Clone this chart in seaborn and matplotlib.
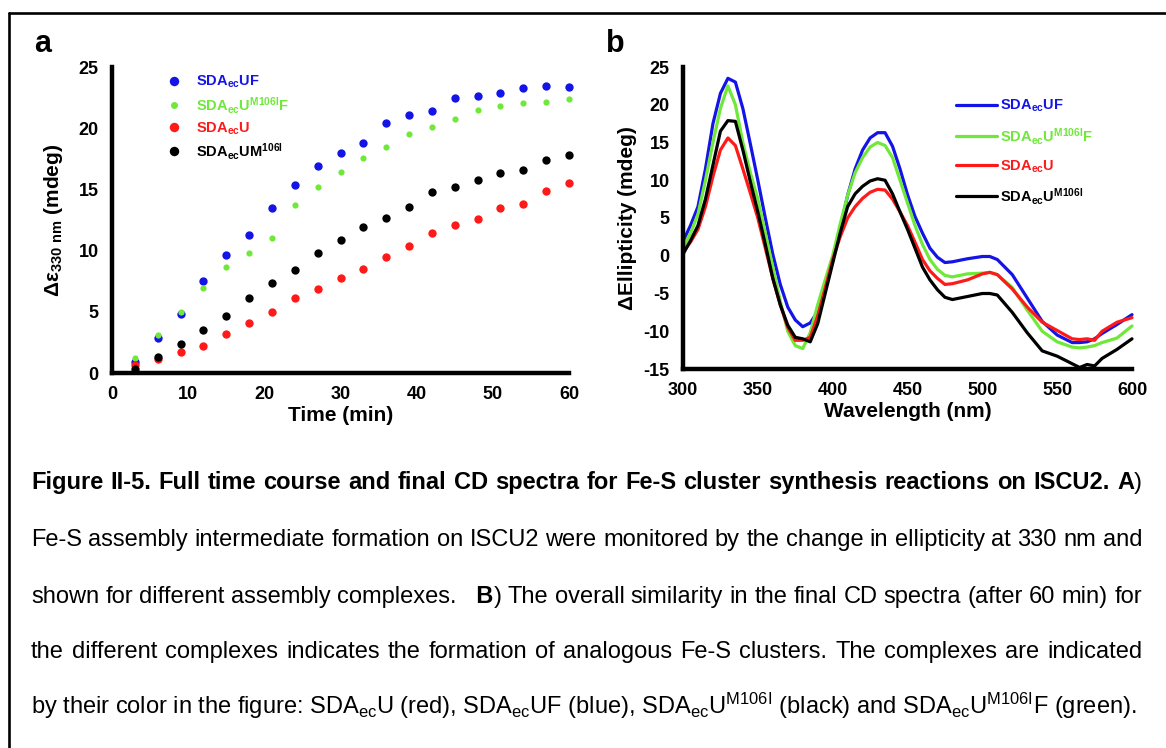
import matplotlib
matplotlib.use("Agg")
import matplotlib.pyplot as plt
import seaborn as sns
import pandas as pd
from matplotlib.lines import Line2D

# ---------------- data ----------------
time_min = [3, 6, 9, 12, 15, 18, 21, 24, 27, 30, 33, 36, 39, 42, 45, 48, 51, 54, 57, 60]
uf_time = [0.9, 2.86, 4.85, 7.5, 9.6, 11.3, 13.5, 15.4, 16.9, 17.95, 18.8, 20.4, 21.1, 21.4,
           22.5, 22.6, 22.9, 23.3, 23.45, 23.4]
um106if_time = [1.25, 3.13, 4.96, 6.97, 8.66, 9.8, 11.0, 13.7, 15.2, 16.4, 17.6, 18.45, 19.5,
                20.1, 20.75, 21.45, 21.85, 22.05, 22.15, 22.4]
u_time = [0.63, 1.17, 1.69, 2.21, 3.16, 4.06, 4.96, 6.1, 6.9, 7.76, 8.5, 9.45, 10.4, 11.4,
          12.1, 12.55, 13.5, 13.8, 14.9, 15.5]
um106i_time = [0.35, 1.31, 2.4, 3.5, 4.68, 6.13, 7.38, 8.44, 9.8, 10.9, 11.9, 12.7, 13.6, 14.75,
               15.2, 15.8, 16.3, 16.6, 17.4, 17.85]

wavelength = [300, 305, 310, 315, 320, 325, 330, 335, 340, 345, 350, 355, 360, 365, 370, 375,
              380, 385, 390, 395, 400, 405, 410, 415, 420, 425, 430, 435, 440, 445, 450, 455,
              460, 465, 470, 475, 480, 490, 500, 505, 510, 520, 530, 540, 550, 560, 565, 570,
              575, 580, 590, 600]
uf_cd = [1.9, 4.0, 6.5, 11.5, 17.5, 21.5, 23.5, 23.0, 19.5, 14.8, 10.0, 5.0, 0.2, -3.8, -6.8,
         -8.5, -9.4, -8.9, -7.4, -4.3, -0.7, 3.6, 8.0, 11.5, 14.0, 15.6, 16.3, 16.3, 14.5, 11.5,
         8.1, 5.2, 3.0, 1.0, -0.2, -0.9, -0.8, -0.4, -0.1, -0.1, -0.5, -2.5, -5.6, -8.7, -10.5,
         -11.5, -11.5, -11.4, -11.0, -10.3, -9.1, -7.8]
um106if_cd = [1.0, 3.0, 5.5, 10.0, 15.0, 19.5, 22.5, 20.0, 15.0, 11.0, 7.5, 3.0, -1.5, -6.0,
              -10.0, -11.9, -12.3, -10.2, -6.5, -3.2, 0.0, 4.2, 8.0, 11.0, 13.0, 14.4, 15.0, 14.6,
              13.0, 10.0, 7.0, 4.0, 1.5, -0.5, -1.8, -2.6, -2.8, -2.4, -2.3, -2.2, -2.5, -4.2,
              -7.2, -10.0, -11.4, -12.1, -12.2, -12.1, -11.9, -11.5, -10.9, -9.3]
u_cd = [0.5, 1.8, 3.5, 6.5, 10.5, 14.0, 15.6, 14.6, 11.5, 8.3, 5.0, 1.0, -3.0, -6.5, -9.5,
        -11.2, -11.2, -10.8, -8.0, -4.3, -0.5, 2.5, 5.0, 6.5, 7.6, 8.4, 8.8, 8.7, 7.5, 5.8,
        4.0, 1.8, -0.5, -2.0, -3.0, -3.8, -3.7, -3.2, -2.4, -2.2, -2.5, -4.4, -6.8, -8.8,
        -9.9, -11.0, -11.1, -11.0, -11.2, -10.0, -8.8, -8.2]
um106i_cd = [0.2, 2.0, 4.0, 7.5, 12.0, 16.5, 17.9, 17.8, 14.0, 9.8, 5.8, 1.5, -3.0, -6.5, -9.2,
             -10.8, -11.0, -11.4, -9.0, -5.0, -1.0, 3.0, 6.5, 8.2, 9.2, 9.9, 10.2, 10.0, 8.2, 5.8,
             3.5, 1.0, -1.5, -3.2, -4.5, -5.5, -5.8, -5.4, -5.0, -5.0, -5.2, -7.5, -10.2, -12.6,
             -13.3, -14.3, -14.8, -14.4, -14.6, -13.6, -12.4, -11.0]

series_keys = ["UF", "UM106IF", "U", "UM106I"]
labels_a = [r"SDA$_{ec}$UF", r"SDA$_{ec}$U$^{M106I}$F", r"SDA$_{ec}$U", r"SDA$_{ec}$UM$^{106I}$"]
labels_b = [r"SDA$_{ec}$UF", r"SDA$_{ec}$U$^{M106I}$F", r"SDA$_{ec}$U", r"SDA$_{ec}$U$^{M106I}$"]
time_ticks = [0, 10, 20, 30, 40, 50, 60]
ell_ticks = [0, 5, 10, 15, 20, 25]
wl_ticks = [300, 350, 400, 450, 500, 550, 600]
cd_ticks = [-15, -10, -5, 0, 5, 10, 15, 20, 25]

caption_lines = [
    [[("Figure", "bold")], [("II-5.", "bold")], [("Full", "bold")], [("time", "bold")],
     [("course", "bold")], [("and", "bold")], [("final", "bold")], [("CD", "bold")],
     [("spectra", "bold")], [("for", "bold")], [("Fe-S", "bold")], [("cluster", "bold")],
     [("synthesis", "bold")], [("reactions", "bold")], [("on", "bold")], [("ISCU2.", "bold")],
     [("A", "bold"), (")", "normal")]],
    [[(w, "normal")] for w in "Fe-S assembly intermediate formation on ISCU2 were monitored by the change in ellipticity at 330 nm and".split()],
    [[(w, "normal")] for w in "shown for different assembly complexes.".split()]
    + [[("  B", "bold"), (")", "normal")]]
    + [[(w, "normal")] for w in "The overall similarity in the final CD spectra (after 60 min) for".split()],
    [[(w, "normal")] for w in "the different complexes indicates the formation of analogous Fe-S clusters. The complexes are indicated".split()],
]
caption_last = (r"by their color in the figure: SDA$_{ec}$U (red), SDA$_{ec}$UF (blue), "
                r"SDA$_{ec}$U$^{M106I}$ (black) and SDA$_{ec}$U$^{M106I}$F (green).")

# ---------------- style ----------------
sns.set_theme(style="white")
plt.rcParams["font.family"] = ["Liberation Sans", "DejaVu Sans"]
plt.rcParams["mathtext.fontset"] = "custom"
plt.rcParams["mathtext.rm"] = "Liberation Sans"
plt.rcParams["mathtext.bf"] = "Liberation Sans:bold"
plt.rcParams["mathtext.default"] = "regular"
for key in ("text.color", "axes.labelcolor", "xtick.color", "ytick.color", "axes.edgecolor"):
    plt.rcParams[key] = "black"

colors = {"UF": "#1414e6", "UM106IF": "#6fe83a", "U": "#ff1a1a", "UM106I": "#000000"}
sizes = {"UF": 36, "UM106IF": 20, "U": 36, "UM106I": 36}

W, H = 1166, 748
fig = plt.figure(figsize=(W / 100, H / 100), dpi=100)


def fx(px):
    return px / W


def fy(py):
    return 1 - py / H


ax_a = fig.add_axes([fx(112), fy(373), fx(569) - fx(112), fy(67) - fy(373)])
ax_b = fig.add_axes([fx(683), fy(369), fx(1132) - fx(683), fy(67) - fy(369)])

# panel a
df_a = pd.DataFrame({
    "time": time_min * 4,
    "val": uf_time + um106if_time + u_time + um106i_time,
    "series": sum([[k] * len(time_min) for k in series_keys], []),
})
for k in series_keys:
    sub = df_a[df_a["series"] == k]
    sns.scatterplot(data=sub, x="time", y="val", color=colors[k], s=sizes[k],
                    linewidth=0, ax=ax_a, legend=False, clip_on=False, zorder=3)

# panel b
df_b = pd.DataFrame({
    "wl": wavelength * 4,
    "val": uf_cd + um106if_cd + u_cd + um106i_cd,
    "series": sum([[k] * len(wavelength) for k in series_keys], []),
})
sns.lineplot(data=df_b, x="wl", y="val", hue="series", hue_order=series_keys,
             palette=colors, estimator=None, sort=False, linewidth=2.3, ax=ax_b,
             legend=False, clip_on=False)
for ln in ax_b.get_lines():
    ln.set_solid_joinstyle("round")

tick_fs = 13
for ax in (ax_a, ax_b):
    for s in ("top", "right"):
        ax.spines[s].set_visible(False)
    for s in ("left", "bottom"):
        ax.spines[s].set_linewidth(3.2)
        ax.spines[s].set_color("black")
    ax.tick_params(direction="out", length=6.5, width=2.6, color="black", pad=3,
                   labelsize=tick_fs, labelcolor="black")
    ax.grid(False)

ax_a.set_xlim(0, 60)
ax_a.set_ylim(0, 25)
ax_a.set_xticks(time_ticks)
ax_a.set_yticks(ell_ticks)
ax_a.set_xticklabels([str(t) for t in time_ticks], fontweight="bold", fontsize=tick_fs)
ax_a.set_yticklabels([str(t) for t in ell_ticks], fontweight="bold", fontsize=tick_fs)
ax_a.set_xlabel("Time (min)", fontsize=15, fontweight="bold", labelpad=2)
ax_a.set_ylabel(r"Δε$_{330\ nm}$ (mdeg)", fontsize=15, fontweight="bold", labelpad=10)

ax_b.set_xlim(300, 600)
ax_b.set_ylim(-15, 25)
ax_b.set_xticks(wl_ticks)
ax_b.set_yticks(cd_ticks)
ax_b.set_xticklabels([str(t) for t in wl_ticks], fontweight="bold", fontsize=tick_fs)
ax_b.set_yticklabels([str(t) for t in cd_ticks], fontweight="bold", fontsize=tick_fs)
ax_b.set_xlabel("Wavelength (nm)", fontsize=15, fontweight="bold", labelpad=2)
ax_b.set_ylabel("ΔEllipticity (mdeg)", fontsize=15, fontweight="bold", labelpad=5)

# legends
handles_a = [Line2D([], [], linestyle="none", marker="o", markersize=(6.8 if k != "UM106IF" else 5.0),
                    markerfacecolor=colors[k], markeredgewidth=0) for k in series_keys]
leg_a = ax_a.legend(handles_a, labels_a, loc="upper left", bbox_to_anchor=(fx(168), fy(74)),
                    bbox_transform=fig.transFigure, frameon=False, handlelength=0.8,
                    handletextpad=1.1, labelspacing=0.3, borderpad=0, borderaxespad=0,
                    prop={"weight": "bold", "size": 10.5},
                    labelcolor=[colors[k] for k in series_keys])

handles_b = [Line2D([], [], color=colors[k], linewidth=2.3) for k in series_keys]
leg_b = ax_b.legend(handles_b, labels_b, loc="upper left", bbox_to_anchor=(fx(956), fy(98)),
                    bbox_transform=fig.transFigure, frameon=False, handlelength=2.8,
                    handletextpad=0.25, labelspacing=0.78, borderpad=0, borderaxespad=0,
                    prop={"weight": "bold", "size": 10.5},
                    labelcolor=[colors[k] for k in series_keys])

# panel letters
fig.text(fx(34), fy(52), "a", fontsize=22, fontweight="bold", ha="left", va="baseline")
fig.text(fx(606), fy(52), "b", fontsize=22, fontweight="bold", ha="left", va="baseline")

# frame lines
fig.add_artist(Line2D([fx(9), fx(9)], [fy(13), fy(748)], color="black", linewidth=1.9,
                      transform=fig.transFigure))
fig.add_artist(Line2D([fx(9), fx(1166)], [fy(13), fy(13)], color="black", linewidth=1.9,
                      transform=fig.transFigure))

# caption (justified)
cap_fs = 17.0
left_px, right_px = 31, 1142
baselines = [489, 546, 603, 658, 714]
renderer = fig.canvas.get_renderer()


def measure(s, weight):
    t = fig.text(0, 0, s, fontsize=cap_fs, fontweight=weight)
    w = t.get_window_extent(renderer).width
    t.remove()
    return w


for line, base in zip(caption_lines, baselines[:4]):
    widths = [[measure(p, wt) for p, wt in word] for word in line]
    total = sum(sum(w) for w in widths)
    gap = (right_px - left_px - total) / (len(line) - 1)
    x = left_px
    for word, ws in zip(line, widths):
        for (p, wt), w in zip(word, ws):
            fig.text(fx(x), fy(base), p, fontsize=cap_fs, fontweight=wt,
                     ha="left", va="baseline")
            x += w
        x += gap

fig.text(fx(left_px), fy(baselines[4]), caption_last, fontsize=cap_fs, ha="left", va="baseline")

fig.savefig("out.png", dpi=100, facecolor="white")
